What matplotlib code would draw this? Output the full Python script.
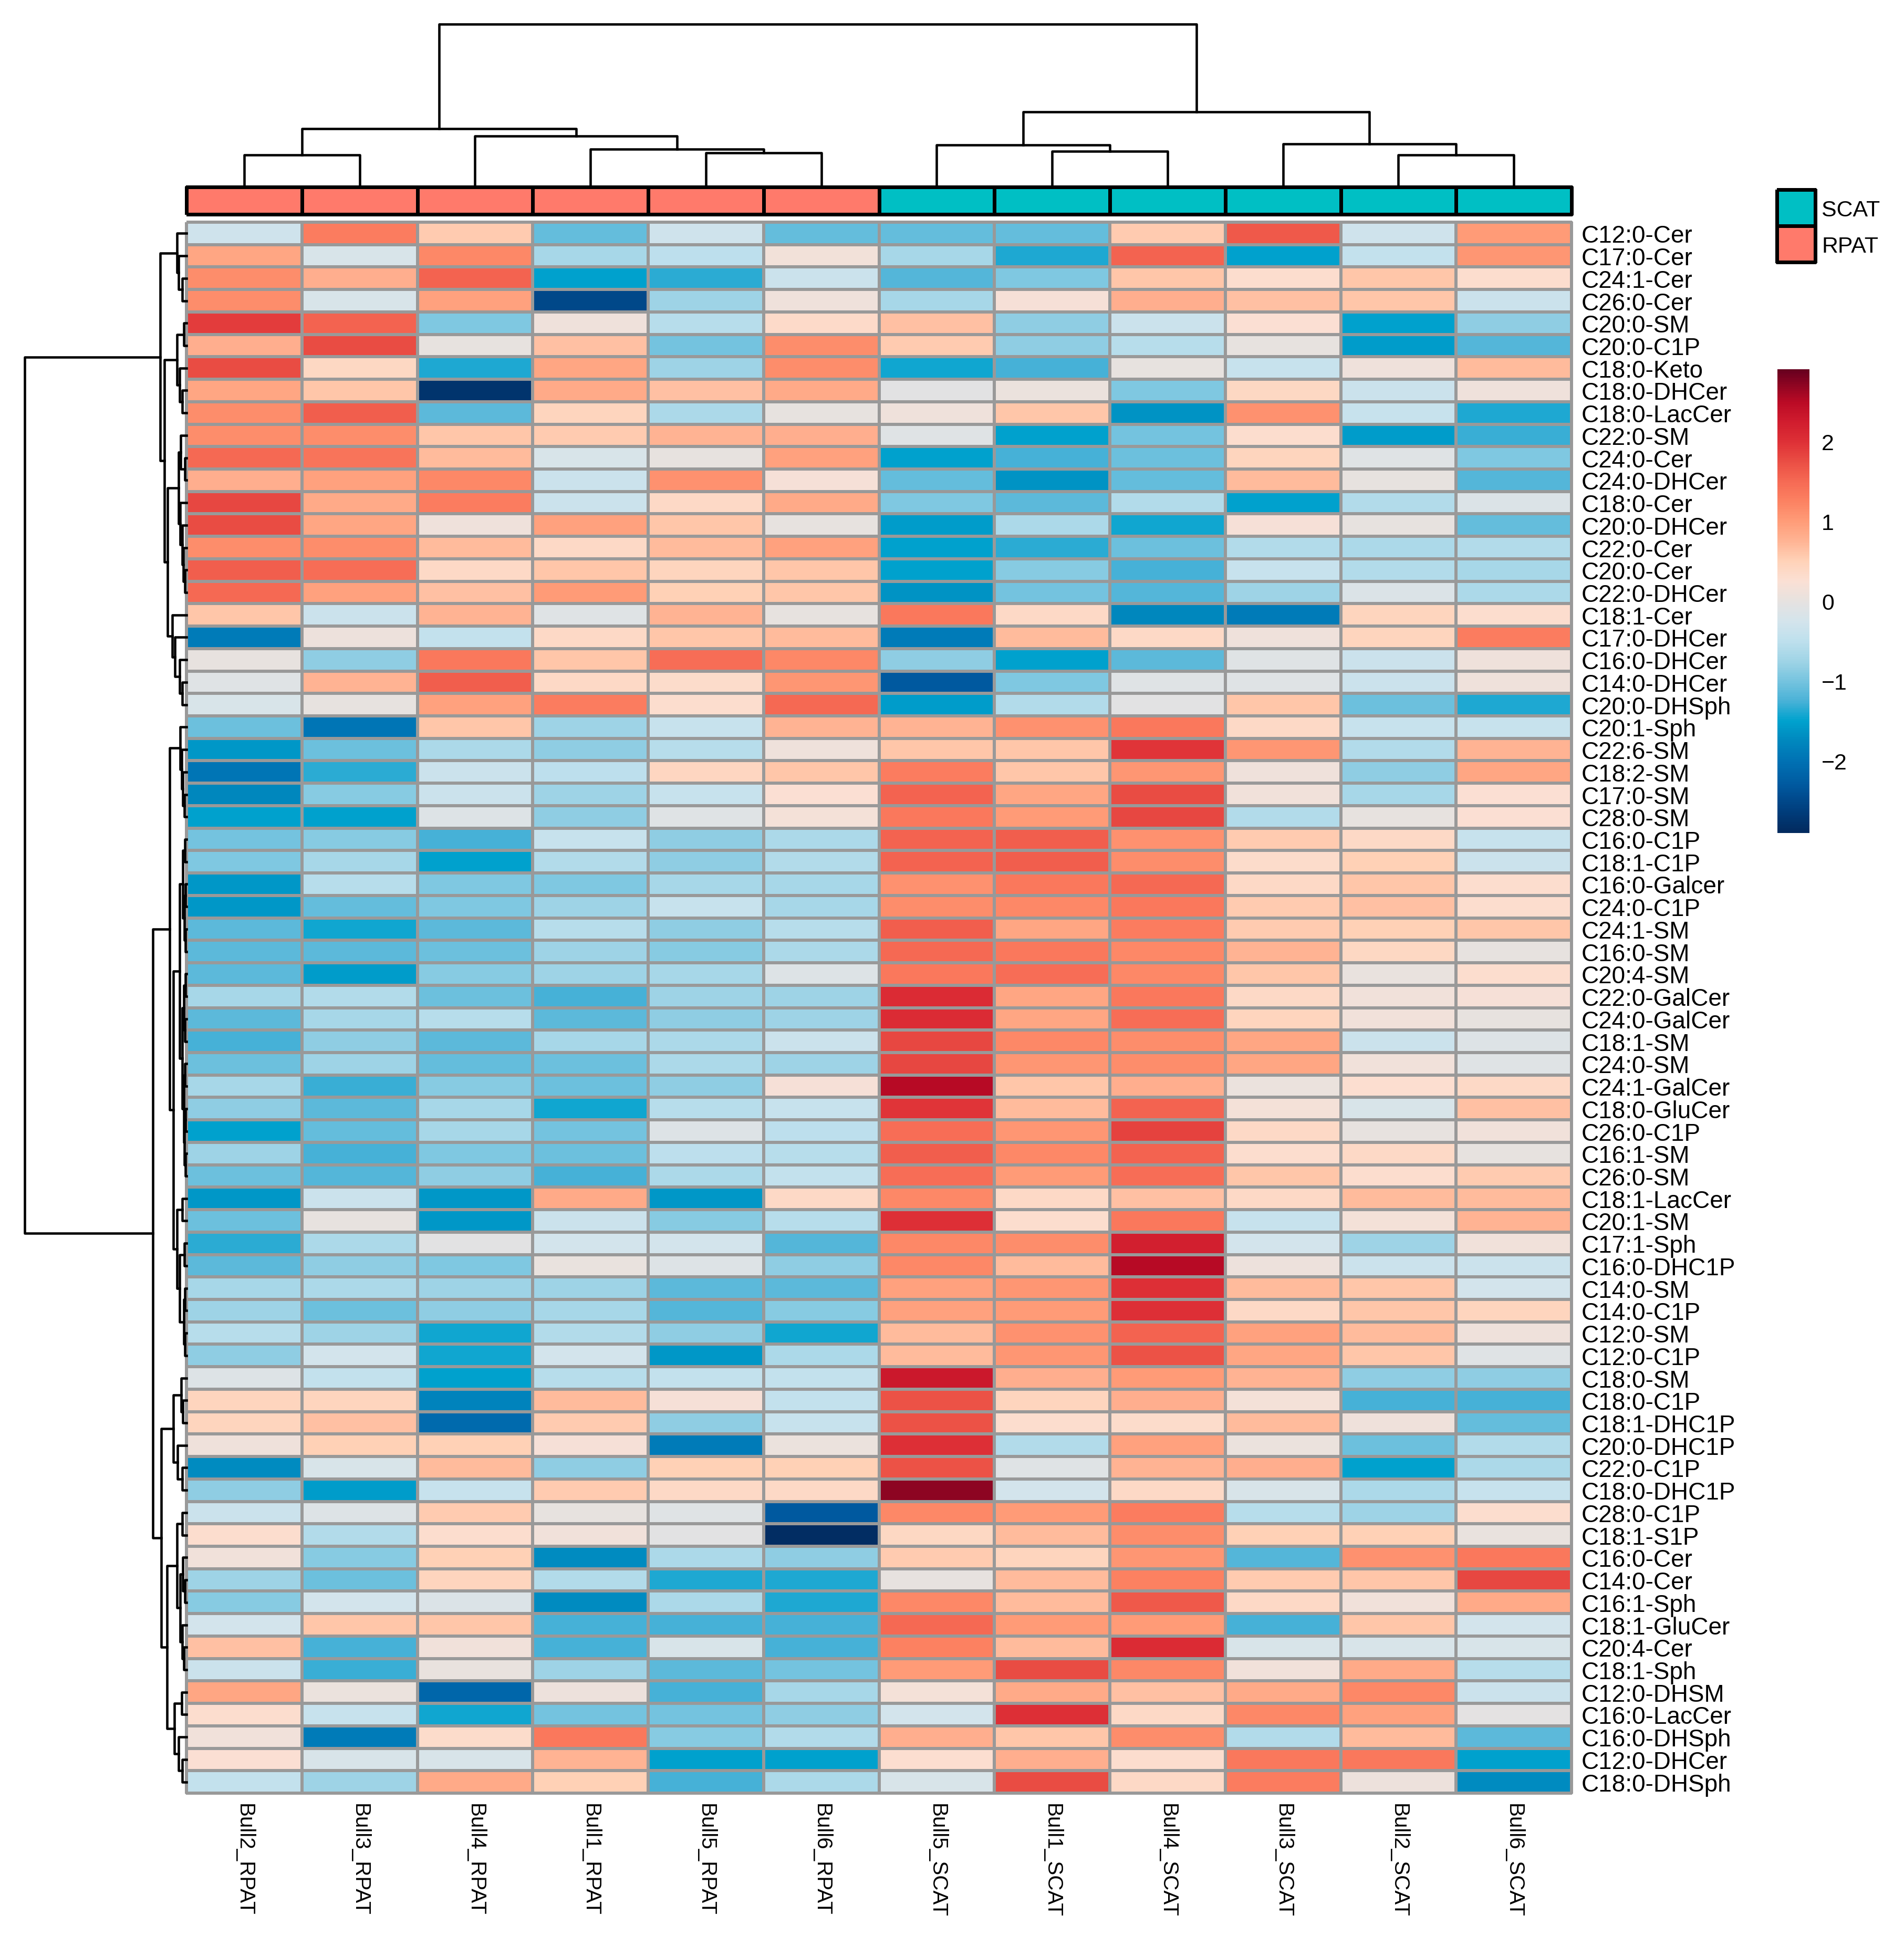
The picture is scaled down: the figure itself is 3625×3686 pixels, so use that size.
import numpy as np
import matplotlib
matplotlib.use("Agg")
import matplotlib.pyplot as plt
from matplotlib.colors import LinearSegmentedColormap, ListedColormap, Normalize
from matplotlib.cm import ScalarMappable

plt.rcParams['font.family'] = ['Liberation Sans', 'DejaVu Sans']

# ---- data ----
col_names = ["Bull2_RPAT", "Bull3_RPAT", "Bull4_RPAT", "Bull1_RPAT", "Bull5_RPAT", "Bull6_RPAT",
             "Bull5_SCAT", "Bull1_SCAT", "Bull4_SCAT", "Bull3_SCAT", "Bull2_SCAT", "Bull6_SCAT"]
col_group = ["RPAT"] * 6 + ["SCAT"] * 6

row_names = ["C12:0-Cer", "C17:0-Cer", "C24:1-Cer", "C26:0-Cer", "C20:0-SM", "C20:0-C1P",
             "C18:0-Keto", "C18:0-DHCer", "C18:0-LacCer", "C22:0-SM", "C24:0-Cer", "C24:0-DHCer",
             "C18:0-Cer", "C20:0-DHCer", "C22:0-Cer", "C20:0-Cer", "C22:0-DHCer", "C18:1-Cer",
             "C17:0-DHCer", "C16:0-DHCer", "C14:0-DHCer", "C20:0-DHSph", "C20:1-Sph", "C22:6-SM",
             "C18:2-SM", "C17:0-SM", "C28:0-SM", "C16:0-C1P", "C18:1-C1P", "C16:0-Galcer",
             "C24:0-C1P", "C24:1-SM", "C16:0-SM", "C20:4-SM", "C22:0-GalCer", "C24:0-GalCer",
             "C18:1-SM", "C24:0-SM", "C24:1-GalCer", "C18:0-GluCer", "C26:0-C1P", "C16:1-SM",
             "C26:0-SM", "C18:1-LacCer", "C20:1-SM", "C17:1-Sph", "C16:0-DHC1P", "C14:0-SM",
             "C14:0-C1P", "C12:0-SM", "C12:0-C1P", "C18:0-SM", "C18:0-C1P", "C18:1-DHC1P",
             "C20:0-DHC1P", "C22:0-C1P", "C18:0-DHC1P", "C28:0-C1P", "C18:1-S1P", "C16:0-Cer",
             "C14:0-Cer", "C16:1-Sph", "C18:1-GluCer", "C20:4-Cer", "C18:1-Sph", "C12:0-DHSM",
             "C16:0-LacCer", "C16:0-DHSph", "C12:0-DHCer", "C18:0-DHSph"]

z_scores = [
    [-0.3, 1.3, 0.55, -1.1, -0.3, -1.1, -1.1, -1.1, 0.55, 1.65, -0.3, 1.0],
    [0.9, -0.2, 1.2, -0.7, -0.5, 0.15, -0.7, -1.4, 1.55, -1.5, -0.45, 1.05],
    [1.15, 0.8, 1.55, -1.5, -1.35, -0.35, -1.2, -0.95, 0.6, 0.3, 0.6, 0.3],
    [1.15, -0.2, 0.95, -2.5, -0.75, 0.1, -0.7, 0.2, 0.8, 0.65, 0.6, -0.35],
    [1.9, 1.55, -0.95, 0.1, -0.55, 0.35, 0.65, -0.85, -0.35, 0.25, -1.5, -0.85],
    [0.8, 1.75, 0.0, 0.65, -1.0, 1.15, 0.55, -0.85, -0.55, 0.0, -1.55, -1.2],
    [1.75, 0.4, -1.4, 0.9, -0.75, 1.15, -1.45, -1.25, 0.0, -0.4, 0.1, 0.7],
    [0.9, 0.6, -2.75, 0.85, 0.65, 0.85, -0.05, 0.05, -0.95, 0.4, -0.35, 0.1],
    [1.15, 1.6, -1.15, 0.45, -0.65, 0.0, 0.1, 0.6, -1.65, 1.1, -0.4, -1.4],
    [1.15, 1.15, 0.6, 0.55, 0.75, 0.8, -0.1, -1.5, -1.0, 0.3, -1.55, -1.3],
    [1.5, 1.4, 0.7, -0.2, 0.0, 0.95, -1.5, -1.25, -1.05, 0.45, -0.1, -0.95],
    [0.8, 0.95, 1.2, -0.35, 1.1, 0.2, -1.1, -1.65, -1.1, 0.7, 0.02, -1.2],
    [1.8, 0.85, 1.3, -0.35, 0.38, 0.85, -0.95, -1.15, -0.6, -1.5, -0.6, -0.15],
    [1.75, 0.9, 0.1, 0.95, 0.6, 0.0, -1.55, -0.65, -1.45, 0.2, 0.02, -1.1],
    [1.15, 1.15, 0.7, 0.38, 0.7, 0.95, -1.5, -1.35, -1.05, -0.6, -0.65, -0.6],
    [1.6, 1.45, 0.38, 0.6, 0.45, 0.6, -1.5, -0.9, -1.25, -0.4, -0.6, -0.7],
    [1.5, 0.95, 0.65, 1.0, 0.5, 0.6, -1.65, -1.0, -1.2, -0.75, -0.15, -0.65],
    [0.6, -0.35, 0.75, -0.1, 0.75, 0.0, 1.35, 0.38, -1.75, -1.9, 0.45, 0.3],
    [-1.9, 0.08, -0.45, 0.38, 0.6, 0.7, -1.9, 0.7, 0.38, 0.1, 0.45, 1.3],
    [0.0, -0.85, 1.35, 0.6, 1.45, 1.2, -0.85, -1.5, -1.15, -0.1, -0.35, 0.1],
    [-0.1, 0.75, 1.6, 0.38, 0.32, 1.05, -2.3, -0.95, -0.1, -0.1, -0.35, 0.1],
    [-0.2, 0.0, 0.95, 1.3, 0.3, 1.5, -1.55, -0.6, -0.05, 0.6, -1.05, -1.4],
    [-1.05, -1.95, 0.6, -0.75, -0.4, 0.75, 0.75, 1.1, 1.35, 0.38, -0.4, -0.4],
    [-1.6, -1.05, -0.65, -0.85, -0.55, 0.1, 0.6, 0.6, 1.95, 1.05, -0.6, 0.75],
    [-1.95, -1.35, -0.35, -0.5, 0.42, 0.6, 1.3, 0.6, 1.05, 0.1, -0.85, 0.9],
    [-1.75, -0.9, -0.35, -0.75, -0.4, 0.25, 1.55, 0.9, 1.75, 0.12, -0.7, 0.25],
    [-1.5, -1.5, -0.12, -0.85, -0.1, 0.18, 1.35, 1.0, 1.8, -0.6, 0.02, 0.25],
    [-1.0, -0.9, -1.25, -0.4, -0.85, -0.65, 1.55, 1.6, 1.1, 0.55, 0.38, -0.4],
    [-0.95, -0.7, -1.5, -0.6, -0.85, -0.6, 1.55, 1.6, 1.15, 0.32, 0.5, -0.35],
    [-1.6, -0.55, -0.95, -0.95, -0.7, -0.7, 1.1, 1.35, 1.5, 0.38, 0.6, 0.3],
    [-1.6, -1.1, -0.95, -0.75, -0.4, -0.7, 1.15, 1.2, 1.35, 0.55, 0.65, 0.3],
    [-1.15, -1.45, -1.15, -0.55, -0.85, -0.55, 1.6, 0.9, 1.3, 0.55, 0.5, 0.6],
    [-1.15, -1.15, -1.05, -0.75, -0.9, -0.65, 1.5, 1.35, 1.2, 0.75, 0.4, 0.02],
    [-1.15, -1.55, -0.9, -0.75, -0.7, -0.12, 1.35, 1.45, 1.2, 0.6, 0.03, 0.3],
    [-0.7, -0.6, -1.05, -1.25, -0.75, -0.75, 2.05, 0.9, 1.35, 0.38, 0.12, 0.2],
    [-1.15, -0.7, -0.55, -1.15, -0.85, -0.75, 2.05, 0.9, 1.45, 0.45, 0.12, 0.0],
    [-1.25, -0.85, -1.15, -0.7, -0.65, -0.35, 1.8, 1.2, 1.15, 0.9, -0.35, -0.12],
    [-1.05, -0.75, -1.1, -1.05, -0.65, -0.75, 1.8, 1.05, 1.15, 0.9, 0.12, -0.1],
    [-0.7, -1.3, -0.9, -1.05, -0.85, 0.2, 2.5, 0.6, 0.8, 0.05, 0.28, 0.38],
    [-0.85, -1.15, -0.7, -1.45, -0.55, -0.4, 1.95, 0.7, 1.55, 0.17, -0.2, 0.65],
    [-1.5, -1.1, -0.7, -1.0, -0.12, -0.5, 1.45, 1.05, 1.85, 0.38, 0.0, 0.12],
    [-0.75, -1.25, -0.95, -1.05, -0.5, -0.55, 1.6, 1.2, 1.55, 0.3, 0.38, 0.02],
    [-1.05, -1.2, -0.85, -1.25, -0.65, -0.45, 1.45, 1.0, 1.45, 0.6, 0.3, 0.55],
    [-1.6, -0.35, -1.6, 0.85, -1.6, 0.38, 1.2, 0.38, 0.65, 0.38, 0.7, 0.7],
    [-1.05, 0.02, -1.6, -0.35, -0.9, -0.55, 2.0, 0.3, 1.35, -0.4, 0.18, 0.75],
    [-1.35, -0.65, -0.05, -0.25, -0.25, -1.2, 1.2, 1.15, 2.2, -0.25, -0.75, 0.12],
    [-1.15, -0.85, -0.95, 0.03, -0.12, -0.85, 1.2, 0.7, 2.5, 0.07, -0.35, -0.35],
    [-0.7, -0.65, -0.75, -0.75, -1.15, -1.15, 0.95, 1.05, 2.0, 0.7, 0.6, -0.25],
    [-0.75, -1.05, -0.85, -0.7, -1.2, -0.9, 0.95, 1.0, 2.0, 0.38, 0.6, 0.45],
    [-0.55, -0.75, -1.45, -0.6, -0.85, -1.45, 0.7, 1.1, 1.55, 0.95, 0.7, 0.1],
    [-0.85, -0.25, -1.45, -0.25, -1.6, -0.65, 0.7, 1.05, 1.7, 0.9, 0.6, -0.1],
    [-0.12, -0.45, -1.5, -0.55, -0.45, -0.45, 2.3, 0.8, 1.0, 0.75, -0.85, -0.85],
    [0.45, 0.45, -1.8, 0.7, 0.2, -0.45, 1.7, 0.45, 0.8, 0.17, -1.25, -1.25],
    [0.45, 0.65, -2.1, 0.55, -0.85, -0.4, 1.7, 0.3, 0.32, 0.7, 0.1, -1.1],
    [0.1, 0.5, 0.5, 0.2, -1.9, 0.05, 2.0, -0.6, 0.95, 0.05, -1.05, -0.6],
    [-1.7, -0.2, 0.7, -0.85, 0.5, 0.5, 1.7, -0.1, 0.75, 0.8, -1.5, -0.65],
    [-0.85, -1.55, -0.4, 0.55, 0.38, 0.38, 2.7, -0.25, 0.38, -0.2, -0.65, -0.4],
    [-0.35, -0.12, 0.55, 0.0, -0.1, -2.3, 1.2, 1.0, 1.3, -0.55, -0.75, 0.3],
    [0.3, -0.6, 0.3, 0.12, -0.05, -2.85, 0.4, 0.7, 1.15, 0.5, 0.5, 0.03],
    [0.12, -0.9, 0.5, -1.7, -0.65, -0.85, 0.55, 0.45, 1.05, -1.2, 1.1, 1.35],
    [-0.75, -1.05, 0.45, -0.6, -1.4, -1.4, 0.0, 0.7, 1.25, 0.55, 0.6, 1.8],
    [-0.9, -0.25, -0.15, -1.7, -0.65, -1.4, 1.2, 0.7, 1.65, 0.38, 0.12, 0.85],
    [-0.25, 0.6, 0.6, -1.25, -1.25, -1.25, 1.5, 1.0, 1.0, -1.25, 0.6, -0.25],
    [0.65, -1.25, 0.12, -1.25, -0.2, -1.25, 1.25, 0.7, 2.05, -0.2, -0.2, -0.2],
    [-0.35, -1.3, 0.03, -0.75, -1.15, -1.0, 1.0, 1.75, 1.2, 0.12, 0.85, -0.55],
    [0.9, 0.05, -2.15, 0.07, -1.25, -0.7, 0.17, 0.85, 0.65, 0.85, 1.2, -0.35],
    [0.3, -0.4, -1.45, -1.0, -1.0, -0.85, -0.25, 2.0, 0.38, 1.2, 0.95, -0.03],
    [0.12, -1.9, 0.32, 1.35, -0.9, -0.6, 0.8, 0.6, 1.15, -0.6, 0.7, -1.15],
    [0.25, -0.2, -0.2, 0.75, -1.5, -1.5, 0.28, 0.8, 0.3, 1.35, 1.35, -1.5],
    [-0.45, -0.75, 0.85, 0.5, -1.25, -0.65, -0.2, 1.75, 0.38, 1.3, 0.07, -1.7],
]

# dendrograms as (left, right, height); ints are leaf indices in display order
col_tree = (((0, 1, 61), (2, (3, (4, 5, 65), 72), 97), 111),
            ((6, (7, 8, 68), 80), (9, (10, 11, 61), 82), 143), 310)

tree_a = (0, (1, (2, 3, 25), 45), 55)
tree_b = ((4, 5, 15), (6, (7, 8, 25), 40), 55)
tree_c = ((9, (10, 11, 10), 32), (12, (13, (14, (15, 16, 10), 18), 25), 37), 45)
tree_d = (17, (18, (19, (20, 21, 25), 40), 65), 80)
tree_e = (22, (23, (24, (25, 26, 12), 20), 28), 35)
tree_f1 = (((27, 28, 8), ((29, 30, 6), (31, 32, 7), 12), 20),
           (((33, 34, 6), (35, 36, 8), 14), ((37, 38, 9), ((39, 40, 5), (41, 42, 7), 11), 16), 25), 40)
tree_f2 = ((43, 44, 25), ((45, 46, 12), ((47, 48, 8), (49, 50, 10), 15), 40), 55)
tree_h = ((51, (52, 53, 20), 30), (54, (55, 56, 25), 50), 75)
tree_g1 = ((57, 58, 25), ((59, (60, 61, 10), 20), (62, (63, 64, 15), 25), 35), 55)
tree_g2 = ((65, 66, 28), (67, (68, 69, 25), 45), 68)
row_tree = ((tree_a, (tree_b, (tree_c, tree_d, 107), 125), 148),
            ((tree_e, (tree_f1, tree_f2, 75), 95),
             (tree_h, (tree_g1, tree_g2, 112), 142), 192), 920)

group_colors = {"RPAT": "#FF7A6B", "SCAT": "#00BFC4"}

# colour scale as in the colour key
cmap_stops = [(-2.9, "#022A5E"), (-2.6, "#004080"), (-2.3, "#005AA0"), (-2.0, "#0072B4"),
              (-1.75, "#0088BE"), (-1.5, "#00A2CE"), (-1.25, "#4AB2D7"), (-1.0, "#76C4DF"),
              (-0.75, "#A0D4E6"), (-0.5, "#BEE0ED"), (-0.25, "#D4E4EC"), (0.0, "#E6E2E0"),
              (0.25, "#FBE0D4"), (0.5, "#FFD2B8"), (0.75, "#FFB494"), (1.0, "#FF9C78"),
              (1.25, "#FC8262"), (1.5, "#F66A54"), (1.75, "#EA4E44"), (2.0, "#DE3036"),
              (2.25, "#D01C2E"), (2.5, "#BA0A25"), (2.9, "#67001F")]
vmin, vmax = -2.9, 2.9
cmap = LinearSegmentedColormap.from_list(
    "key", [((v - vmin) / (vmax - vmin), c) for v, c in cmap_stops], N=256)
norm = Normalize(vmin=vmin, vmax=vmax)

# ---- layout (pixel boxes) ----
W, H = 3625, 3687
fig = plt.figure(figsize=(W / 300, H / 300), dpi=300)


def add_ax(x0, y0, x1, y1):
    return fig.add_axes([x0 / W, 1 - y1 / H, (x1 - x0) / W, (y1 - y0) / H])


def draw_tree(ax, tree, horizontal):
    def walk(node):
        if isinstance(node, int):
            return node + 0.5, 0.0
        left, right, h = node
        p1, h1 = walk(left)
        p2, h2 = walk(right)
        pos = [p1, p1, p2, p2]
        hts = [h1, h, h, h2]
        if horizontal:
            ax.plot(hts, pos, color="black", lw=1.1, clip_on=False)
        else:
            ax.plot(pos, hts, color="black", lw=1.1, clip_on=False)
        return (p1 + p2) / 2, h
    walk(tree)


n_rows, n_cols = len(row_names), len(col_names)
data = np.array(z_scores)

# heatmap
ax = add_ax(355, 424, 2992, 3415)
mesh = ax.pcolormesh(np.arange(n_cols + 1), np.arange(n_rows + 1), data, cmap=cmap, norm=norm,
                     edgecolors="#999999", linewidth=1.0)
mesh.set_clip_on(False)
ax.set_xlim(0, n_cols)
ax.set_ylim(n_rows, 0)
for s in ax.spines.values():
    s.set_visible(False)
ax.yaxis.tick_right()
ax.set_yticks(np.arange(n_rows) + 0.5)
ax.set_yticklabels(row_names, fontsize=11)
ax.set_xticks(np.arange(n_cols) + 0.5)
ax.set_xticklabels(col_names, fontsize=9.7, rotation=270)
ax.tick_params(length=0, pad=4.5)

# column annotation
ax_ann = add_ax(355, 357, 2992, 409)
groups = sorted(group_colors)
ann = np.array([[groups.index(g) for g in col_group]])
m2 = ax_ann.pcolormesh(np.arange(n_cols + 1), [0, 1], ann,
                       cmap=ListedColormap([group_colors[g] for g in groups]),
                       vmin=-0.5, vmax=len(groups) - 0.5, edgecolors="black", linewidth=1.3)
m2.set_clip_on(False)
ax_ann.set_xlim(0, n_cols)
ax_ann.axis("off")

# column dendrogram
ax_cd = add_ax(355, 47, 2992, 357)
draw_tree(ax_cd, col_tree, horizontal=False)
ax_cd.set_xlim(0, n_cols)
ax_cd.set_ylim(0, col_tree[2])
ax_cd.axis("off")

# row dendrogram
ax_rd = add_ax(47, 424, 355, 3415)
draw_tree(ax_rd, row_tree, horizontal=True)
ax_rd.set_xlim(row_tree[2], 0)
ax_rd.set_ylim(n_rows, 0)
ax_rd.axis("off")

# annotation legend
legend_order = ["SCAT", "RPAT"]
ax_lg = add_ax(3383, 362, 3456, 500)
m3 = ax_lg.pcolormesh([0, 1], [0, 1, 2], np.array([[0], [1]]),
                      cmap=ListedColormap([group_colors[g] for g in legend_order]),
                      vmin=-0.5, vmax=1.5, edgecolors="black", linewidth=1.3)
m3.set_clip_on(False)
ax_lg.set_xlim(0, 1)
ax_lg.set_ylim(2, 0)
for s in ax_lg.spines.values():
    s.set_visible(False)
ax_lg.set_xticks([])
ax_lg.yaxis.tick_right()
ax_lg.set_yticks([0.5, 1.5])
ax_lg.set_yticklabels(legend_order, fontsize=10.3)
ax_lg.tick_params(length=0, pad=3)

# colour key
cax = add_ax(3384, 704, 3445, 1587)
cb = fig.colorbar(ScalarMappable(norm=norm, cmap=cmap), cax=cax)
cb.outline.set_visible(False)
cb.set_ticks([2, 1, 0, -1, -2])
cb.set_ticklabels(["2", "1", "0", "\u22121", "\u22122"])
cax.tick_params(length=0, pad=5.5, labelsize=10.3)

fig.savefig("out.png", dpi=300)
